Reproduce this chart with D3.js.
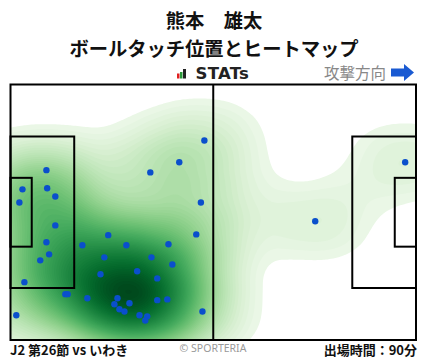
<!DOCTYPE html>
<html>
<head>
<meta charset="utf-8">
<script src="https://cdn.jsdelivr.net/npm/d3@7"></script>
<style>
  body { margin: 0; background: #fff; }
  svg { display: block; }
</style>
</head>
<body>
<div id="chart"></div>
<script>
const width = 428;
const height = 359;

// pitch size in metres, ball-touch positions (x along attack direction, y from top touchline)
const pitchLength = 105;
const pitchWidth = 68;
const touchX = [50.2, 43.7, 36.2, 49.3, 9.3, 3.1, 9.5, 11.6, 2.3, 11.6, 9.3, 10.0, 7.7, 3.6,
  1.5, 25.3, 18.6, 30.0, 40.9, 48.1, 24.3, 36.5, 41.9, 32.8, 23.3, 38.0, 14.2, 14.8,
  19.9, 27.7, 26.9, 30.8, 28.2, 29.5, 38.0, 40.6, 33.4, 35.4, 34.9, 49.7, 78.9, 102.2];
const touchY = [14.9, 20.7, 23.4, 31.4, 22.8, 27.9, 27.6, 29.8, 31.4, 37.5, 42.0, 45.2, 46.8, 52.6,
  61.4, 40.1, 42.8, 42.8, 42.5, 39.9, 46.0, 46.0, 47.9, 49.7, 50.5, 51.6, 55.8, 55.8,
  56.9, 56.9, 58.5, 58.2, 59.8, 60.4, 57.4, 57.2, 61.4, 61.7, 62.8, 60.4, 36.4, 20.7];

const titleLines = ["熊本\u3000雄太", "ボールタッチ位置とヒートマップ"];
const matchLabel = "J2 第26節 vs いわき";
const minutesLabel = "出場時間：90分";

const touches = touchX.map((x, i) => ({ x: x, y: touchY[i] }));

const pitch = { left: 10.5, top: 84.5, right: 416, bottom: 340 };
const xScale = d3.scaleLinear().domain([0, pitchLength]).range([pitch.left, pitch.right]);
const yScale = d3.scaleLinear().domain([0, pitchWidth]).range([pitch.top, pitch.bottom]);

const svg = d3.select("#chart").append("svg")
  .attr("width", width)
  .attr("height", height);

const jp = "'Noto Sans CJK JP', 'Noto Sans', sans-serif";

// title
svg.selectAll(".title")
  .data(titleLines)
  .enter()
  .append("text")
  .attr("x", width / 2)
  .attr("y", (d, i) => 19.5 + i * 28)
  .attr("text-anchor", "middle")
  .attr("dominant-baseline", "central")
  .style("font-family", jp)
  .style("font-weight", "bold")
  .style("font-size", "19.3px")
  .style("fill", "#111")
  .text(d => d);

// STATs logo
const logoBars = [{ x: 177, w: 2.5, h: 5, c: "#e02020" }, { x: 180, w: 2.5, h: 6.5, c: "#2a9a3a" },
  { x: 183, w: 3, h: 9.5, c: "#222" }];
svg.selectAll(".logo-bar")
  .data(logoBars)
  .enter()
  .append("rect")
  .attr("x", d => d.x)
  .attr("y", d => 78.5 - d.h)
  .attr("width", d => d.w)
  .attr("height", d => d.h)
  .attr("fill", d => d.c);
svg.append("text")
  .attr("x", 195.5)
  .attr("y", 73.5)
  .attr("dominant-baseline", "central")
  .style("font-family", "'DejaVu Sans', sans-serif")
  .style("font-weight", "bold")
  .style("font-size", "16.5px")
  .style("letter-spacing", "0.3px")
  .style("fill", "#222")
  .text("STATs");

// attack direction
svg.append("text")
  .attr("x", 386)
  .attr("y", 72)
  .attr("text-anchor", "end")
  .attr("dominant-baseline", "central")
  .style("font-family", jp)
  .style("font-size", "15.5px")
  .style("fill", "#888")
  .text("攻撃方向");
svg.append("path")
  .attr("d", "M391,68.5 L404,68.5 L404,64 L414,72.5 L404,81 L404,76.5 L391,76.5 Z")
  .attr("fill", "#1a5ad2");

// heatmap
svg.append("clipPath").attr("id", "pitch-clip")
  .append("rect")
  .attr("x", pitch.left)
  .attr("y", pitch.top)
  .attr("width", pitch.right - pitch.left)
  .attr("height", pitch.bottom - pitch.top);

const stretch = 1.4; // wider spread along the pitch than across it
const density = d3.contourDensity()
  .x(d => xScale(d.x))
  .y(d => yScale(d.y) * stretch)
  .size([width, height * stretch])
  .cellSize(2)
  .bandwidth(37)
  .thresholds(70)(touches);

const maxDensity = d3.max(density, d => d.value);
const color = v => d3.interpolateGreens(Math.pow(v / (maxDensity * 1.01), 0.7));

svg.append("g")
  .attr("clip-path", "url(#pitch-clip)")
  .append("g")
  .attr("transform", `scale(1, ${1 / stretch})`)
  .selectAll("path")
  .data(density.filter(d => d.value > maxDensity * 0.015))
  .enter()
  .append("path")
  .attr("d", d3.geoPath())
  .attr("fill", d => color(d.value));

// pitch lines
const lines = svg.append("g")
  .attr("fill", "none")
  .attr("stroke", "#000")
  .attr("stroke-width", 2);

lines.append("rect")
  .attr("x", xScale(0))
  .attr("y", yScale(0))
  .attr("width", xScale(pitchLength) - xScale(0))
  .attr("height", yScale(pitchWidth) - yScale(0));
lines.append("line")
  .attr("x1", xScale(pitchLength / 2))
  .attr("x2", xScale(pitchLength / 2))
  .attr("y1", yScale(0))
  .attr("y2", yScale(pitchWidth));

const boxes = [
  { x0: 0, x1: 16.5, y0: 13.84, y1: 54.16 },
  { x0: 0, x1: 5.5, y0: 24.84, y1: 43.16 },
  { x0: pitchLength - 16.5, x1: pitchLength, y0: 13.84, y1: 54.16 },
  { x0: pitchLength - 5.5, x1: pitchLength, y0: 24.84, y1: 43.16 }
];
lines.selectAll(".box")
  .data(boxes)
  .enter()
  .append("rect")
  .attr("x", d => xScale(d.x0))
  .attr("y", d => yScale(d.y0))
  .attr("width", d => xScale(d.x1) - xScale(d.x0))
  .attr("height", d => yScale(d.y1) - yScale(d.y0));

// ball touches
svg.append("g")
  .selectAll("circle")
  .data(touches)
  .enter()
  .append("circle")
  .attr("cx", d => xScale(d.x))
  .attr("cy", d => yScale(d.y))
  .attr("r", 3.2)
  .attr("fill", "#0a4fcc");

// footer
svg.append("text")
  .attr("x", 10)
  .attr("y", 349)
  .attr("dominant-baseline", "central")
  .style("font-family", jp)
  .style("font-weight", "bold")
  .style("font-size", "13px")
  .style("fill", "#111")
  .text(matchLabel);
svg.append("text")
  .attr("x", 213)
  .attr("y", 348)
  .attr("text-anchor", "middle")
  .attr("dominant-baseline", "central")
  .style("font-family", "'Noto Sans', sans-serif")
  .style("font-size", "10.5px")
  .style("fill", "#999")
  .text("© SPORTERIA");
svg.append("text")
  .attr("x", 417)
  .attr("y", 349)
  .attr("text-anchor", "end")
  .attr("dominant-baseline", "central")
  .style("font-family", jp)
  .style("font-weight", "bold")
  .style("font-size", "13px")
  .style("fill", "#111")
  .text(minutesLabel);
</script>
</body>
</html>
